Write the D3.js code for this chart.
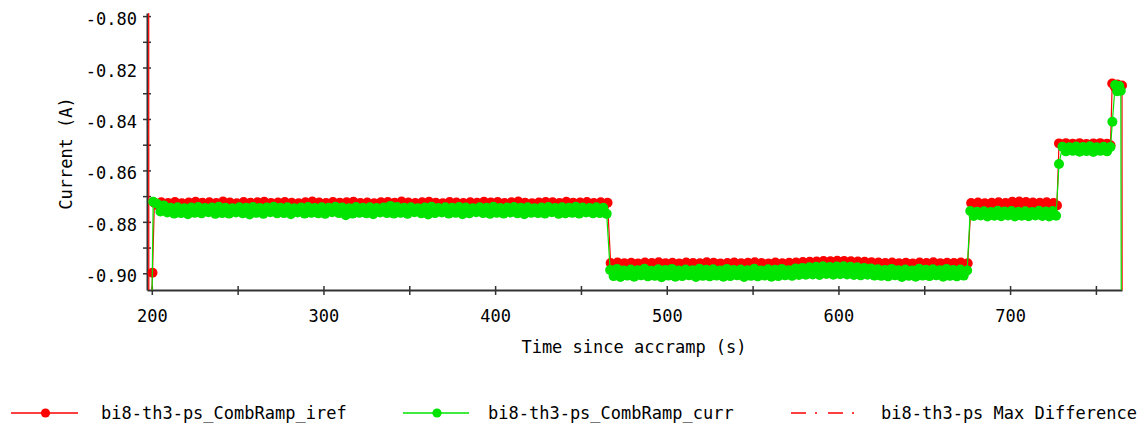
<!DOCTYPE html>
<meta charset="utf-8">
<style>
body { margin: 0; background: #fff; }
svg { display: block; }
text { font-family: "DejaVu Sans Mono", "Liberation Mono", monospace; font-size: 17px; fill: #000; }
.axis path, .axis line { stroke: #333; }
</style>
<svg width="1147" height="427"></svg>
<script src="https://d3js.org/d3.v7.min.js"></script>
<script>

// sampling step (s) used on the flat plateaus
var STEP = 2;

// bi8-th3-ps_CombRamp_iref
var irefHead = [[197.7, 0], [198.3, -0.95], [200.4, -0.8998]];
var irefPlateau1 = [
  -0.8726,-0.8736,-0.8724,-0.8738,-0.8727,-0.8735,-0.8723,-0.8737,-0.8728,-0.8739,
  -0.8725,-0.8734,-0.8722,-0.8736,-0.8726,-0.8738,-0.8724,-0.8735,-0.8727,-0.8737,
  -0.8721,-0.8739,-0.8725,-0.8736,-0.8728,-0.8734,-0.8723,-0.8738,-0.8726,-0.8735,
  -0.8724,-0.8737,-0.8722,-0.8736,-0.8727,-0.8739,-0.8725,-0.8734,-0.8723,-0.8737,
  -0.8726,-0.8735,-0.8728,-0.8738,-0.8724,-0.8736,-0.8721,-0.8737,-0.8725,-0.8734,
  -0.8727,-0.8739,-0.8723,-0.8735,-0.8726,-0.8736,-0.8724,-0.8738,-0.8722,-0.8737,
  -0.8727,-0.8734,-0.8725,-0.8736,-0.8728,-0.8739,-0.8724,-0.8735,-0.8723,-0.8737,
  -0.8726,-0.8738,-0.8721,-0.8736,-0.8725,-0.8734,-0.8727,-0.8737,-0.8724,-0.8735,
  -0.8722,-0.8738,-0.8726,-0.8736,-0.8728,-0.8739,-0.8723,-0.8734,-0.8725,-0.8737,
  -0.8727,-0.8735,-0.8724,-0.8736,-0.8726,-0.8738,-0.8722,-0.8735,-0.8725,-0.8737,
  -0.8723,-0.8739,-0.8727,-0.8736,-0.8724,-0.8734,-0.8721,-0.8737,-0.8726,-0.8735,
  -0.8728,-0.8738,-0.8725,-0.8736,-0.8723,-0.8737,-0.8724,-0.8735,-0.8727,-0.8739,
  -0.8722,-0.8736,-0.8726,-0.8734,-0.8725,-0.8737,-0.8723,-0.8735,-0.8727,-0.8738,
  -0.8724,-0.8736,-0.8726];
var irefPlateau2 = [
  -0.8960,-0.8968,-0.8958,-0.8967,-0.8961,-0.8969,-0.8959,-0.8966,-0.8962,-0.8968,
  -0.8958,-0.8970,-0.8960,-0.8967,-0.8957,-0.8966,-0.8961,-0.8969,-0.8959,-0.8967,
  -0.8962,-0.8968,-0.8958,-0.8966,-0.8960,-0.8970,-0.8961,-0.8967,-0.8957,-0.8969,
  -0.8959,-0.8966,-0.8962,-0.8968,-0.8960,-0.8967,-0.8958,-0.8970,-0.8961,-0.8966,
  -0.8959,-0.8968,-0.8957,-0.8969,-0.8960,-0.8967,-0.8962,-0.8966,-0.8958,-0.8968,
  -0.8961,-0.8970,-0.8959,-0.8967,-0.8958,-0.8965,-0.8956,-0.8964,-0.8955,-0.8963,
  -0.8954,-0.8962,-0.8952,-0.8961,-0.8953,-0.8962,-0.8951,-0.8960,-0.8952,-0.8961,
  -0.8953,-0.8962,-0.8954,-0.8963,-0.8955,-0.8964,-0.8957,-0.8965,-0.8958,-0.8966,
  -0.8960,-0.8968,-0.8958,-0.8967,-0.8961,-0.8969,-0.8959,-0.8966,-0.8962,-0.8970,
  -0.8958,-0.8968,-0.8960,-0.8967,-0.8957,-0.8969,-0.8961,-0.8966,-0.8959,-0.8968,
  -0.8960,-0.8967,-0.8958,-0.8969,-0.8961];
var irefPlateau3 = [
  -0.8727,-0.8735,-0.8725,-0.8737,-0.8728,-0.8734,-0.8726,-0.8736,-0.8724,-0.8735,
  -0.8727,-0.8733,-0.8722,-0.8736,-0.8721,-0.8734,-0.8723,-0.8737,-0.8725,-0.8735,
  -0.8726,-0.8736,-0.8724,-0.8734,-0.8727,-0.8736];
var irefPlateau4 = [
  -0.8495,-0.8502,-0.8494,-0.8503,-0.8496,-0.8501,-0.8494,-0.8504,-0.8497,-0.8502,
  -0.8495,-0.8503,-0.8494,-0.8501,-0.8496,-0.8502];
var irefTail = [[759.5, -0.8262], [761, -0.8275], [762.5, -0.8266], [764, -0.8280], [765.2, -0.8270], [765.3, -0.95]];
var irefStarts = [201.5, 467.3, 677.3, 728.5];

// bi8-th3-ps_CombRamp_curr
var currHead = [[199.4, -0.95], [200.8, -0.8722]];
var currPlateau1 = [
  -0.8730,-0.8760,-0.8736,-0.8764,-0.8745,-0.8768,-0.8743,-0.8766,-0.8747,-0.8770,
  -0.8744,-0.8765,-0.8742,-0.8767,-0.8746,-0.8763,-0.8744,-0.8769,-0.8741,-0.8766,
  -0.8745,-0.8768,-0.8747,-0.8764,-0.8743,-0.8767,-0.8745,-0.8771,-0.8742,-0.8765,
  -0.8746,-0.8769,-0.8744,-0.8763,-0.8741,-0.8767,-0.8745,-0.8766,-0.8743,-0.8770,
  -0.8747,-0.8764,-0.8744,-0.8768,-0.8742,-0.8765,-0.8746,-0.8767,-0.8743,-0.8769,
  -0.8745,-0.8763,-0.8741,-0.8766,-0.8744,-0.8774,-0.8747,-0.8768,-0.8742,-0.8765,
  -0.8745,-0.8767,-0.8743,-0.8770,-0.8746,-0.8764,-0.8744,-0.8766,-0.8738,-0.8768,
  -0.8742,-0.8765,-0.8745,-0.8769,-0.8743,-0.8763,-0.8747,-0.8767,-0.8744,-0.8771,
  -0.8741,-0.8766,-0.8746,-0.8764,-0.8743,-0.8768,-0.8745,-0.8765,-0.8742,-0.8770,
  -0.8744,-0.8767,-0.8747,-0.8763,-0.8743,-0.8766,-0.8745,-0.8769,-0.8741,-0.8765,
  -0.8746,-0.8768,-0.8744,-0.8764,-0.8742,-0.8767,-0.8745,-0.8770,-0.8743,-0.8765,
  -0.8747,-0.8766,-0.8744,-0.8768,-0.8742,-0.8763,-0.8746,-0.8769,-0.8743,-0.8767,
  -0.8745,-0.8765,-0.8741,-0.8768,-0.8744,-0.8764,-0.8746,-0.8767,-0.8743,-0.8766,
  -0.8745,-0.8769];
var currPlateau2 = [
  -0.8987,-0.9011,-0.8983,-0.9014,-0.8989,-0.9009,-0.8985,-0.9013,-0.8988,-0.9008,
  -0.8982,-0.9012,-0.8990,-0.9010,-0.8984,-0.9015,-0.8987,-0.9009,-0.8983,-0.9013,
  -0.8989,-0.9011,-0.8985,-0.9008,-0.8988,-0.9014,-0.8982,-0.9010,-0.8986,-0.9012,
  -0.8984,-0.9009,-0.8989,-0.9013,-0.8983,-0.9011,-0.8987,-0.9008,-0.8985,-0.9014,
  -0.8988,-0.9010,-0.8982,-0.9012,-0.8989,-0.9009,-0.8984,-0.9013,-0.8986,-0.9011,
  -0.8983,-0.9008,-0.8988,-0.9010,-0.8981,-0.9007,-0.8979,-0.9006,-0.8977,-0.9005,
  -0.8975,-0.9007,-0.8973,-0.9003,-0.8976,-0.9006,-0.8974,-0.9004,-0.8973,-0.9005,
  -0.8975,-0.9007,-0.8977,-0.9008,-0.8979,-0.9006,-0.8981,-0.9009,-0.8984,-0.9010,
  -0.8987,-0.9012,-0.8983,-0.9008,-0.8988,-0.9014,-0.8985,-0.9010,-0.8989,-0.9013,
  -0.8982,-0.9009,-0.8986,-0.9011,-0.8984,-0.9008,-0.8988,-0.9013,-0.8983,-0.9010,
  -0.8987,-0.9012,-0.8985,-0.9009,-0.8989];
var currPlateau3 = [
  -0.8758,-0.8777,-0.8761,-0.8775,-0.8759,-0.8779,-0.8762,-0.8776,-0.8757,-0.8778,
  -0.8760,-0.8775,-0.8758,-0.8779,-0.8761,-0.8776,-0.8759,-0.8778,-0.8762,-0.8775,
  -0.8757,-0.8777,-0.8760,-0.8779,-0.8758,-0.8776];
var currStep = [[728.5, -0.8575]];
var currPlateau4 = [
  -0.8508,-0.8526,-0.8510,-0.8524,-0.8507,-0.8527,-0.8509,-0.8525,-0.8506,-0.8528,
  -0.8510,-0.8524,-0.8508,-0.8526,-0.8509];
var currTail = [[759.6, -0.8411], [761.2, -0.8268], [762.4, -0.8292], [763.6, -0.8272], [764.5, -0.8290], [764.9, -0.95]];
var currStarts = [203, 467, 676.8, 730.5];

// bi8-th3-ps Max Difference (stays off the plotted range)
var maxDiff = [];

var seriesNames = ["bi8-th3-ps_CombRamp_iref", "bi8-th3-ps_CombRamp_curr", "bi8-th3-ps Max Difference"];
var xTicks = [200, 250, 300, 350, 400, 450, 500, 550, 600, 650, 700, 750];
var yTicks = [-0.90, -0.89, -0.88, -0.87, -0.86, -0.85, -0.84, -0.83, -0.82, -0.81, -0.80];

function plateau(start, vals) {
  return vals.map(function(v, i) { return [start + i * STEP, v]; });
}

var iref = [].concat(irefHead,
  plateau(irefStarts[0], irefPlateau1),
  plateau(irefStarts[1], irefPlateau2),
  plateau(irefStarts[2], irefPlateau3),
  plateau(irefStarts[3], irefPlateau4),
  irefTail);

var curr = [].concat(currHead,
  plateau(currStarts[0], currPlateau1),
  plateau(currStarts[1], currPlateau2),
  plateau(currStarts[2], currPlateau3),
  currStep,
  plateau(currStarts[3], currPlateau4),
  currTail);

var svg = d3.select("svg");

var x = d3.scaleLinear().domain([197.2, 765.2]).range([147, 1122]);
var y = d3.scaleLinear().domain([-0.9065, -0.7988]).range([290, 13]);

svg.append("defs").append("clipPath").attr("id", "plot")
  .append("rect").attr("x", 140).attr("y", 13).attr("width", 990).attr("height", 277);

// axes
var xAxis = svg.append("g").attr("class", "axis")
    .attr("transform", "translate(0,290)")
    .call(d3.axisBottom(x).tickValues(xTicks).tickSizeOuter(0)
      .tickFormat(function(d) { return d % 100 === 0 ? d : ""; }));
xAxis.select(".domain").attr("stroke-width", 2);
xAxis.selectAll(".tick line").attr("y1", -4).attr("y2", 5).attr("stroke-width", 1.5);
xAxis.selectAll(".tick text").attr("y", 32).attr("dy", 0);
xAxis.attr("font-family", null).attr("font-size", null);

var yAxis = svg.append("g").attr("class", "axis")
    .attr("transform", "translate(147,0)")
    .call(d3.axisLeft(y).tickValues(yTicks).tickSizeOuter(0)
      .tickFormat(function(d) { return Math.round(d * 100) % 2 === 0 ? d.toFixed(2) : ""; }));
yAxis.select(".domain").attr("stroke-width", 2);
yAxis.selectAll(".tick line").attr("x1", -4).attr("x2", 4).attr("stroke-width", 1.5);
yAxis.selectAll(".tick text").attr("x", -10).attr("dy", "0.5em");
yAxis.attr("font-family", null).attr("font-size", null);

svg.append("text")
    .attr("x", 634).attr("y", 353)
    .attr("text-anchor", "middle")
    .text("Time since accramp (s)");

svg.append("text")
    .attr("transform", "translate(71.5,153.5) rotate(-90)")
    .attr("text-anchor", "middle")
    .text("Current (A)");

// series
var line = d3.line().x(function(d) { return x(d[0]); }).y(function(d) { return y(d[1]); });

function drawSeries(data, color, dash) {
  var g = svg.append("g");
  g.append("path")
    .datum(data)
    .attr("clip-path", "url(#plot)")
    .attr("fill", "none")
    .attr("stroke", color)
    .attr("stroke-width", 1.2)
    .attr("stroke-dasharray", dash || null)
    .attr("d", line);
  if (dash) return;
  g.selectAll("circle")
    .data(data.filter(function(d) { return d[1] >= y.domain()[0] && d[1] <= y.domain()[1]; }))
    .enter().append("circle")
      .attr("cx", function(d) { return x(d[0]); })
      .attr("cy", function(d) { return y(d[1]); })
      .attr("r", 5)
      .attr("fill", color);
}

var colors = ["#ff0000", "#00e400", "#ff0000"];
drawSeries(iref, colors[0]);
drawSeries(curr, colors[1]);
drawSeries(maxDiff, colors[2], "15,9,2,11");

// legend
var legendX = [[11, 78, 101], [403, 469, 488], [791, 857, 881]];
var legend = svg.append("g").attr("transform", "translate(0,413)");
seriesNames.forEach(function(name, i) {
  var p = legendX[i];
  legend.append("line")
    .attr("x1", p[0]).attr("x2", p[1])
    .attr("stroke", colors[i]).attr("stroke-width", 1.5)
    .attr("stroke-dasharray", i === 2 ? "15,9,2,11" : null);
  if (i < 2) {
    legend.append("circle").attr("cx", (p[0] + p[1]) / 2 + 1).attr("r", 4.6).attr("fill", colors[i]);
  }
  legend.append("text").attr("x", p[2]).attr("dy", "0.36em").text(name);
});

</script>
